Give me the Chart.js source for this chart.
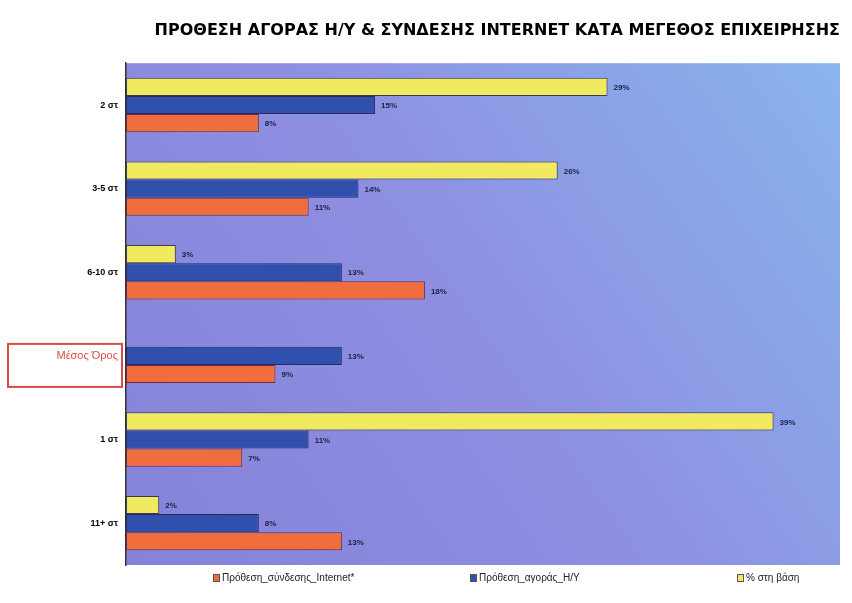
<!DOCTYPE html>
<html><head><meta charset="utf-8">
<script src="https://cdn.jsdelivr.net/npm/chart.js@4/dist/chart.umd.min.js"></script>
<style>html,body{margin:0;padding:0;background:#fff}canvas{display:block}</style>
</head><body>
<canvas id="c" width="852" height="603"></canvas>
<script>
const categories = ["2 στ", "3-5 στ", "6-10 στ", "Μέσος Όρος", "1 στ", "11+ στ"];
const baseShare = [29, 26, 3, null, 39, 2];          // % στη βάση
const pcIntent = [15, 14, 13, 13, 11, 8];             // Πρόθεση_αγοράς_Η/Υ
const internetIntent = [8, 11, 18, 9, 7, 13];         // Πρόθεση_σύνδεσης_Internet*
const seriesNames = ["% στη βάση", "Πρόθεση_αγοράς_Η/Υ", "Πρόθεση_σύνδεσης_Internet*"];
const titleText = "ΠΡΟΘΕΣΗ ΑΓΟΡΑΣ Η/Υ & ΣΥΝΔΕΣΗΣ INTERNET ΚΑΤΑ ΜΕΓΕΘΟΣ ΕΠΙΧΕΙΡΗΣΗΣ";
const meanIndex = 3;
const legendX = [213, 470, 737];   // left edges of the legend items (orange, blue, yellow)

const bgPlugin = {
  id: 'bg',
  beforeDraw(chart) {
    const {ctx, chartArea: a} = chart;
    const g = ctx.createLinearGradient(a.left, a.bottom, a.right, a.top);
    g.addColorStop(0, '#8582d8');
    g.addColorStop(0.5, '#8e90e2');
    g.addColorStop(0.8, '#8aa6e8');
    g.addColorStop(1, '#8bb4ec');
    ctx.save();
    ctx.fillStyle = g;
    ctx.fillRect(a.left, a.top, a.right - a.left, a.bottom - a.top);
    ctx.restore();
  }
};

const labelPlugin = {
  id: 'vals',
  afterDatasetsDraw(chart) {
    const ctx = chart.ctx;
    ctx.save();
    ctx.font = 'bold 8px "Liberation Sans", Arial, sans-serif';
    ctx.fillStyle = '#1e1e40';
    ctx.textBaseline = 'middle';
    ctx.textAlign = 'left';
    chart.data.datasets.forEach((ds, di) => {
      chart.getDatasetMeta(di).data.forEach((el, i) => {
        const v = ds.data[i];
        if (v === null || v === undefined) return;
        ctx.fillText(v + '%', el.x + 6, el.y + 1);
      });
    });
    // red box around the mean label
    const ys = chart.scales.y;
    const y = ys.getPixelForTick(meanIndex);
    ctx.strokeStyle = '#d94a4a';
    ctx.lineWidth = 2;
    ctx.strokeRect(8, y - 12, 114, 43);
    // legend (reverse dataset order)
    const a = chart.chartArea;
    const ly = a.bottom + 13;
    ctx.font = '10px "Liberation Sans", Arial, sans-serif';
    ctx.textBaseline = 'middle';
    const order = [2, 1, 0];
    order.forEach((di, k) => {
      const ds = chart.data.datasets[di];
      const x = legendX[k];
      ctx.fillStyle = ds.backgroundColor;
      ctx.fillRect(x, ly - 4, 7, 8);
      ctx.strokeStyle = '#555';
      ctx.lineWidth = 1;
      ctx.strokeRect(x + 0.5, ly - 3.5, 6, 7);
      ctx.fillStyle = '#222';
      ctx.fillText(ds.label, x + 9, ly);
    });
    ctx.restore();
  }
};

new Chart(document.getElementById('c'), {
  type: 'bar',
  data: {
    labels: categories,
    datasets: [
      {label: seriesNames[0], data: baseShare, backgroundColor: '#f2ea5e', borderColor: '#3a3a55'},
      {label: seriesNames[1], data: pcIntent, backgroundColor: '#2f50ac', borderColor: '#2a2a60'},
      {label: seriesNames[2], data: internetIntent, backgroundColor: '#f06e3e', borderColor: '#6a2a40'}
    ]
  },
  options: {
    indexAxis: 'y',
    responsive: false,
    animation: false,
    layout: {padding: {left: 10, right: 12, top: 0, bottom: 38}},
    datasets: {bar: {categoryPercentage: 0.65, barPercentage: 1.0, borderWidth: 1, borderSkipped: false}},
    scales: {
      x: {display: false, min: 0, max: 43},
      y: {
        grid: {display: false, drawTicks: false},
        border: {display: true, color: '#333', width: 1.5},
        afterFit(s) { s.width = 116; },
        ticks: {
          padding: 8,
          color: (c) => c.index === meanIndex ? '#e04848' : '#000',
          font: (c) => c.index === meanIndex
            ? {family: '"Liberation Sans", Arial, sans-serif', size: 11, weight: 'normal'}
            : {family: '"Liberation Sans", Arial, sans-serif', size: 9, weight: 'bold'}
        }
      }
    },
    plugins: {
      title: {
        display: true, text: titleText, align: 'end',
        color: '#000',
        font: {family: '"DejaVu Sans", sans-serif', size: 16, weight: 'bold'},
        padding: {top: 21, bottom: 23}
      },
      legend: {display: false},
      tooltip: {enabled: false}
    }
  },
  plugins: [bgPlugin, labelPlugin]
});
</script>
</body></html>
